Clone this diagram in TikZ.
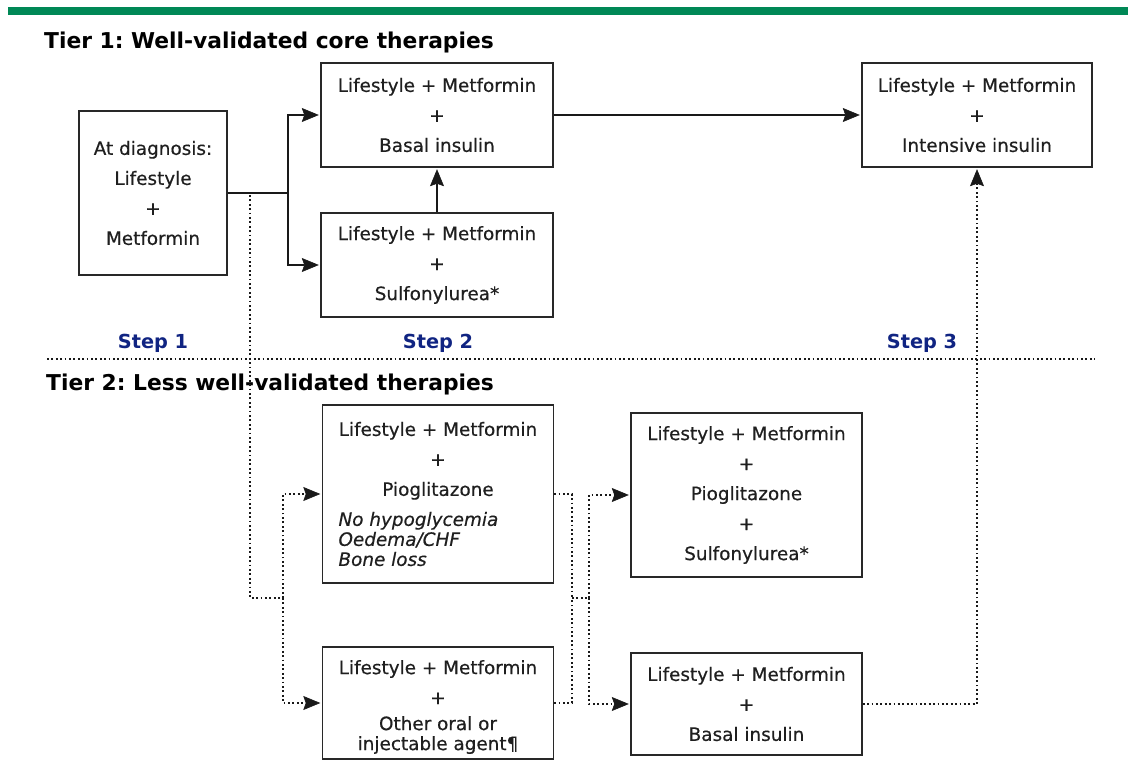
\documentclass[tikz,border=0pt]{standalone}
\usepackage{fontspec}
\setmainfont{DejaVu Sans}
\newfontfamily\boxfamily{DejaVu Sans}[FakeBold=0.5]
\usetikzlibrary{arrows.meta}
\definecolor{bargreen}{RGB}{0,136,86}
\definecolor{stepblue}{RGB}{16,36,130}
\definecolor{boxline}{RGB}{40,40,40}
\frenchspacing
\tikzset{bigtip/.tip={Stealth[length=17pt,width=14pt,inset=2.5pt,line width=0.6pt]}}
\begin{document}
\begin{tikzpicture}[x=1pt,y=-1pt,
  box/.style={draw=boxline, line width=1.4pt, inner sep=0pt, align=center,
    font=\boxfamily\fontsize{18.4}{30}\selectfont, text=black!88},
  tier/.style={font=\bfseries\fontsize{21.8}{24}\selectfont, anchor=base west, inner sep=0pt},
  steplbl/.style={font=\bfseries\fontsize{19.3}{20}\selectfont, text=stepblue, inner sep=0pt},
  tip/.style={-bigtip, shorten >=1.5pt},
  solidline/.style={line width=1.4pt, draw=black!90},
  solidarrow/.style={solidline, tip},
  dotline/.style={line width=1.7pt, draw=black!90, dash pattern=on 1.8pt off 2.6pt},
  dotarrow/.style={dotline, tip},
]
\useasboundingbox (0,0) rectangle (1128,773);
\fill[bargreen] (8,7) rectangle (1128,15);

% titles
\node[tier] (t1) at (44,49) {Tier 1: Well-validated core therapies};
\node[tier] (t2) at (46,390) {Tier 2: Less well-validated therapies};

% step labels
\node[steplbl] (s1) at (153,343) {Step 1};
\node[steplbl] (s2) at (438,343) {Step 2};
\node[steplbl] (s3) at (922,343) {Step 3};

% divider
\coordinate (dl) at (47,359);
\coordinate (dr) at (1095,359);
\draw[dotline, line width=1.3pt] (dl) -- (dr);

% boxes
\node[box, minimum width=148pt, minimum height=164pt] (diag) at (153,193)
  {At diagnosis:\\Lifestyle\\+\\Metformin};
\node[box, minimum width=232pt, minimum height=104pt] (b) at (437,115)
  {Lifestyle + Metformin\\+\\Basal insulin};
\node[box, minimum width=232pt, minimum height=104pt] (c) at (437,265)
  {Lifestyle + Metformin\\+\\Sulfonylurea*};
\node[box, minimum width=230pt, minimum height=104pt] (d) at (977,115)
  {Lifestyle + Metformin\\+\\Intensive insulin};
\node[box, minimum width=231pt, minimum height=178pt] (e) at (438,494)
  {Lifestyle + Metformin\\+\\Pioglitazone\\
   \makebox[199pt][l]{\itshape No hypoglycemia}\\[-10pt]
   \makebox[199pt][l]{\itshape Oedema/CHF}\\[-10pt]
   \makebox[199pt][l]{\itshape Bone loss}};
\node[box, minimum width=231pt, minimum height=112pt] (f) at (438,703)
  {\rule{0pt}{22pt}Lifestyle + Metformin\\+\\[-4pt]Other oral or\\[-10pt]injectable agent¶};
\node[box, minimum width=231pt, minimum height=164pt] (g) at (746.5,495)
  {Lifestyle + Metformin\\+\\Pioglitazone\\+\\Sulfonylurea*};
\node[box, minimum width=231pt, minimum height=102pt] (h) at (746.5,704)
  {Lifestyle + Metformin\\+\\Basal insulin};

% tier 1 connectors
\coordinate (split1) at (288,193);
\draw[solidline] (diag.east) -- (split1);
\draw[solidarrow] (split1) |- (b.west);
\draw[solidarrow] (split1) |- (c.west);
\draw[solidarrow] (c.north) -- (b.south);
\draw[solidarrow] (b.east) -- (d.west);

% tier 2 connectors
\coordinate (dsrc) at (250,195);
\coordinate (dcorner) at (250,598);
\coordinate (split2) at (283,598);
\draw[dotline] (dsrc) -- (dcorner) -- (split2);
\draw[dotarrow] (split2) |- (e.west);
\draw[dotarrow] (split2) |- (f.west);

\coordinate (join) at (572,598);
\coordinate (split3) at (589,598);
\draw[dotline] (e.east) -| (join);
\draw[dotline] (f.east) -| (join);
\draw[dotline] (join) -- (split3);
\draw[dotarrow] (split3) |- (g.west);
\draw[dotarrow] (split3) |- (h.west);

\draw[dotarrow] (h.east) -| (d.south);
\end{tikzpicture}
\end{document}
